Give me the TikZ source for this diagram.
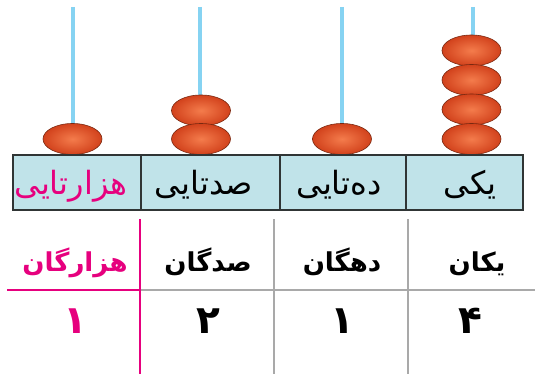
\documentclass[tikz,border=0pt]{standalone}
\usepackage{fontspec}
\usetikzlibrary{shapes.geometric}
\newfontfamily\farsi[Script=Arabic]{DejaVu Sans}
\TeXXeTstate=1
\definecolor{rod}{HTML}{86D3F2}
\definecolor{beadouter}{HTML}{D2421C}
\definecolor{beadinner}{HTML}{F47C4C}
\definecolor{beadedge}{HTML}{7A2810}
\definecolor{cellfill}{HTML}{C0E3E9}
\definecolor{frame}{HTML}{303535}
\definecolor{pinky}{HTML}{E6007E}
\definecolor{rulegray}{HTML}{A9A9A9}

\begin{document}
\begin{tikzpicture}[x=1pt,y=-1pt]
  \tikzstyle{bead}=[ellipse, minimum width=59pt, minimum height=31pt, inner sep=0pt, draw=beadedge, line width=0.6pt, inner color=beadinner, outer color=beadouter]
  \tikzstyle{rodline}=[draw=rod, line width=3.5pt]
  \tikzstyle{cellbox}=[draw=frame, fill=cellfill, line width=2pt]
  \tikzstyle{label}=[font=\farsi\fontsize{32}{38}\selectfont, inner sep=0pt, anchor=base]
  \tikzstyle{head}=[font=\farsi\bfseries\fontsize{26}{31}\selectfont, inner sep=0pt, anchor=base]
  \tikzstyle{digit}=[font=\farsi\bfseries\fontsize{39}{46}\selectfont, inner sep=0pt, anchor=base]
  \tikzstyle{grayrule}=[draw=rulegray, line width=2pt]
  \tikzstyle{pinkrule}=[draw=pinky, line width=2.4pt]
  \useasboundingbox (0,0) rectangle (535,374);

  % rods
  \foreach \x/\n in {73/1,200/2,342/3,473/4} {
    \coordinate (top\n) at (\x,7);
    \coordinate (foot\n) at (\x,155);
    \draw[rodline] (top\n) -- (foot\n);
  }

  % beads
  \node[bead] (th1) at (72.5,139) {};
  \node[bead] (hu2) at (201,110.5) {};
  \node[bead] (hu1) at (201,139) {};
  \node[bead] (te1) at (342,139) {};
  \foreach \i in {4,3,2,1}
    \node[bead] (on\i) at (471.5,{139-29.5*(\i-1)}) {};

  % frame
  \draw[cellbox] (13,155) rectangle (523,210);
  \foreach \x/\n in {141/1,280/2,406/3} {
    \coordinate (up\n) at (\x,155);
    \coordinate (dn\n) at (\x,210);
    \draw[cellbox] (up\n) -- (dn\n);
  }
  \node[label, text=pinky] (l1) at (71,195) {\beginR هزارتایی\endR};
  \node[label] (l2) at (204,195) {\beginR صدتایی\endR};
  \node[label] (l3) at (339,195) {\beginR ده^^^^200cتایی\endR};
  \node[label] (l4) at (470,195) {\beginR یکی\endR};

  % place value table
  \coordinate (h0) at (7,290);
  \coordinate (h1) at (140,290);
  \coordinate (h2) at (535,290);
  \draw[grayrule] (h1) -- (h2);
  \draw[pinkrule] (h0) -- (h1);
  \foreach \x/\n in {274/2,408/3} {
    \coordinate (s\n) at (\x,219);
    \coordinate (e\n) at (\x,374);
    \draw[grayrule] (s\n) -- (e\n);
  }
  \coordinate (s1) at (140,219);
  \coordinate (e1) at (140,374);
  \draw[pinkrule] (s1) -- (e1);

  \node[head, text=pinky] (g1) at (75,271) {\beginR هزارگان\endR};
  \node[head] (g2) at (208,271) {\beginR صدگان\endR};
  \node[head] (g3) at (342,271) {\beginR دهگان\endR};
  \node[head] (g4) at (477,271) {\beginR یکان\endR};

  \node[digit, text=pinky] (n1) at (75,333) {۱};
  \node[digit] (n2) at (208,333) {۲};
  \node[digit] (n3) at (342,333) {۱};
  \node[digit] (n4) at (470,333) {۴};
\end{tikzpicture}
\end{document}
